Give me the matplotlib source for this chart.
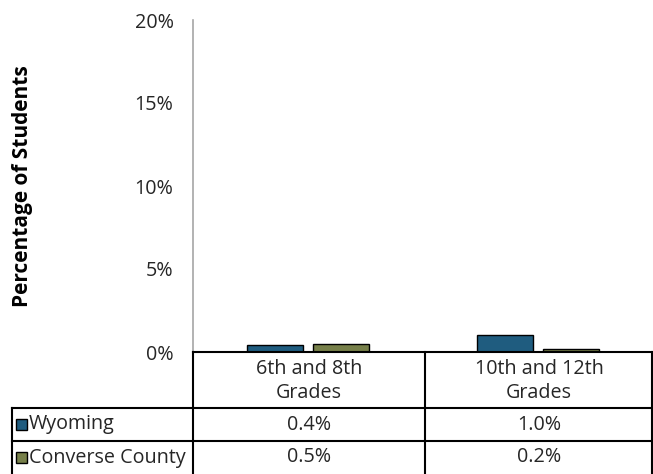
#!/usr/bin/env python3
# grouped bars with a data table underneath (excel-style chart)

import matplotlib
matplotlib.use("Agg")
import matplotlib.pyplot as plt
from matplotlib.lines import Line2D
from matplotlib.patches import Rectangle

plt.rcParams["font.family"] = ["Open Sans", "DejaVu Sans"]

GROUPS = ["6th and 8th\nGrades", "10th and 12th\nGrades"]
SERIES = ["Wyoming", "Converse County"]
WYOMING = [0.4, 1.0]
CONVERSE = [0.5, 0.2]
COLORS = ["#1F5C7F", "#77804A"]
YTICKS = [0, 5, 10, 15, 20]

W, H = 653, 474
FS = 14.2
TXT = "#262626"
fig = plt.figure(figsize=(W / 100, H / 100), dpi=100)

# pixel layout
ax_l, ax_r, ax_top, ax_bot = 193, 653, 20, 352
col_x = [12, 193, 425, 653]
row_y = [352, 408, 441, 474]


def fx(px):
    return px / W


def fy(py):
    return 1 - py / H


ax = fig.add_axes([fx(ax_l), fy(ax_bot), fx(ax_r - ax_l), fy(ax_top) - fy(ax_bot)])

bw = 0.243
off = 0.143
xs = [i + 0.5 for i in range(len(GROUPS))]
for vals, color, sign in zip([WYOMING, CONVERSE], COLORS, [-1, 1]):
    ax.bar([x + sign * off for x in xs], vals, width=bw, color=color,
           edgecolor="black", linewidth=1.0, zorder=3)

ax.set_xlim(0, len(GROUPS))
ax.set_ylim(0, 20)
ax.set_yticks(YTICKS)
ax.set_yticklabels([f"{v}%" for v in YTICKS], fontsize=FS, color=TXT)
ax.tick_params(axis="y", length=0, pad=14)
ax.set_xticks([])
for s in ["top", "right", "bottom"]:
    ax.spines[s].set_visible(False)
ax.spines["left"].set_color("#A6A6A6")
ax.spines["left"].set_linewidth(1.2)

fig.text(fx(23), fy(186), "Percentage of Students", rotation=90,
         ha="center", va="center", fontsize=FS + 0.8, fontweight="bold")

# table lines
lw = 1.5


def hline(y, x0, x1):
    fig.add_artist(Line2D([fx(x0), fx(x1)], [fy(y), fy(y)], color="black", lw=lw))


def vline(x, y0, y1):
    fig.add_artist(Line2D([fx(x), fx(x)], [fy(y0), fy(y1)], color="black", lw=lw))


hline(row_y[0], col_x[1], col_x[3])
hline(row_y[1], col_x[0], col_x[3])
hline(row_y[2], col_x[0], col_x[3])
vline(col_x[0], row_y[1], row_y[3])
vline(col_x[1], row_y[0], row_y[3])
vline(col_x[2], row_y[0], row_y[3])
vline(col_x[3] - 1, row_y[0], row_y[3])

# header row
for i, g in enumerate(GROUPS):
    cx = (col_x[i + 1] + col_x[i + 2]) / 2
    cy = (row_y[0] + row_y[1]) / 2 + 1
    fig.text(fx(cx), fy(cy), g, ha="center", va="center", fontsize=FS,
             color=TXT, linespacing=1.25)

# data rows
for r, (name, vals, color) in enumerate(zip(SERIES, [WYOMING, CONVERSE], COLORS)):
    cy = (row_y[r + 1] + row_y[r + 2]) / 2
    fig.add_artist(Rectangle((fx(16), fy(cy + 5.5)), fx(11), fy(cy - 5.5) - fy(cy + 5.5),
                             facecolor=color, edgecolor="black", lw=1.0))
    fig.text(fx(29), fy(cy), name, ha="left", va="center", fontsize=FS,
             color=TXT)
    for i, v in enumerate(vals):
        cx = (col_x[i + 1] + col_x[i + 2]) / 2
        fig.text(fx(cx), fy(cy), f"{v:.1f}%", ha="center", va="center",
                 fontsize=FS, color=TXT)

fig.savefig("out.png", dpi=100)
